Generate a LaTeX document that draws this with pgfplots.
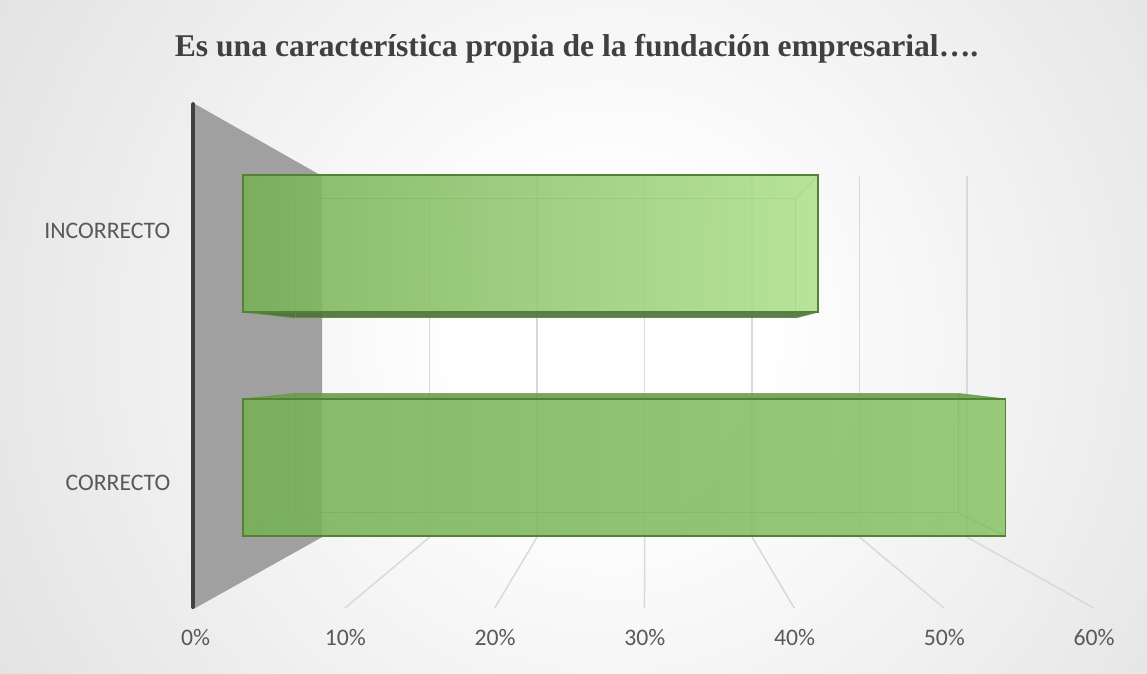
\documentclass[border=0pt]{standalone}
\usepackage{pgfplots}
\pgfplotsset{compat=1.18}
\usepackage{pgfplotstable}
\usepackage{fontspec}
\setmainfont{Carlito}
\newfontfamily\titlefont{Liberation Serif}

\definecolor{bgout}{HTML}{BEBEBE}
\definecolor{wallgray}{HTML}{A0A0A0}
\definecolor{axisdark}{HTML}{404040}
\definecolor{gridgray}{HTML}{D9D9D9}
\definecolor{titlecol}{HTML}{404040}
\definecolor{labcol}{HTML}{595959}
\definecolor{incL}{HTML}{77B256}
\definecolor{incR}{HTML}{AEE08E}
\definecolor{corL}{HTML}{76B255}
\definecolor{corR}{HTML}{8AC469}
\definecolor{edgedark}{HTML}{548235}
\definecolor{backedge}{HTML}{5E9A3C}
\definecolor{botface}{HTML}{4C6E3C}
\definecolor{topface}{HTML}{6A9E4C}

\pgfdeclareradialshading{bgrad}{\pgfpoint{0bp}{0bp}}{color(0bp)=(white); color(5bp)=(white); color(50bp)=(bgout)}

\pgfplotstableread{
y value
0 57
1 43
}\datatable

\begin{document}
\begin{tikzpicture}
% ---------- background, walls, floor (pixel coordinates) ----------
\begin{scope}[x=0.02cm,y=-0.02cm,shift={(0cm,13.46cm)}]
  \fill[bgout] (0,0) rectangle (1147,673);
  \begin{scope}
    \clip (0,0) rectangle (1147,673);
    \shade[shading=bgrad] (610,340) circle (720);
  \end{scope}
  % side wall
  \fill[wallgray] (195,104) -- (322,176) -- (322,537) -- (195,608) -- cycle;
  % back wall vertical grid lines and floor lines
  \foreach \k in {1,...,6}{
    \draw[gridgray, line width=0.85pt] (322+107.5*\k,176) -- (322+107.5*\k,537);
    \draw[gridgray, line width=0.85pt] (322+107.5*\k,537) -- (195+149.8*\k,608);
  }
  % vertical axis line
  \draw[axisdark, line width=2.3pt, line cap=round] (193,104) -- (193,607);
  % title
  \node[anchor=base, inner sep=0pt, text=titlecol,
        font=\titlefont\bfseries\fontsize{18}{20}\selectfont] at (576.5,56)
        {Es una característica propia de la fundación empresarial….};
\end{scope}

% ---------- the chart ----------
\begin{axis}[
  at={(0,0)}, anchor=south west,
  scale only axis, width=22.94cm, height=13.46cm,
  xmin=-18.161, xmax=67.563, ymin=-0.9174, ymax=2.0871,
  axis line style={draw=none},
  major tick length=0pt,
  clip=false,
  xtick={-3.55,7.646,18.84,30.04,41.23,52.43,63.63},
  xticklabels={0\%,10\%,20\%,30\%,40\%,50\%,60\%},
  xticklabel style={anchor=base, inner sep=0pt, yshift=0.54cm,
    font=\fontsize{13.5}{15}\selectfont, text=labcol},
  ytick={-0.069,1.058},
  yticklabels={CORRECTO,INCORRECTO},
  yticklabel style={anchor=east, inner sep=0pt, xshift=3.41cm,
    font=\fontsize{13.5}{15}\selectfont, text=labcol},
]
% 3D parts of each bar: visible horizontal face, back face and depth edges
\pgfplotsinvokeforeach{0,1}{
  \pgfplotstablegetelem{#1}{value}\of\datatable \let\vv\pgfplotsretval
  \pgfplotstablegetelem{#1}{y}\of\datatable \let\cc\pgfplotsretval
  \pgfmathsetmacro\xbl{30.007*(1-0.87049)}
  \pgfmathsetmacro\xbr{30.007+0.87049*(\vv-30.007)}
  \pgfmathsetmacro\yft{\cc+0.3058}
  \pgfmathsetmacro\yfb{\cc-0.3058}
  \pgfmathsetmacro\ybt{0.4933+0.87049*(\yft-0.4933)}
  \pgfmathsetmacro\ybb{0.4933+0.87049*(\yfb-0.4933)}
  \pgfmathtruncatemacro\vis{\yfb>0.4933}
  \ifnum\vis=1
    \edef\doface{\noexpand\addplot[forget plot, draw=none, fill=botface, fill opacity=0.9]
      coordinates {(0,\yfb) (\vv,\yfb) (\xbr,\ybb) (\xbl,\ybb) (0,\yfb)};}
  \else
    \edef\doface{\noexpand\addplot[forget plot, draw=none, fill=topface, fill opacity=0.9]
      coordinates {(0,\yft) (\vv,\yft) (\xbr,\ybt) (\xbl,\ybt) (0,\yft)};}
  \fi
  \doface
  \edef\doback{\noexpand\addplot[forget plot, draw=backedge, line width=0.6pt, draw opacity=0.7]
    coordinates {(\xbl,\ybt) (\xbr,\ybt) (\xbr,\ybb) (\xbl,\ybb) (\xbl,\ybt)};}
  \doback
  \edef\dodiag{%
    \noexpand\addplot[forget plot, draw=backedge, line width=0.6pt, draw opacity=0.7] coordinates {(0,\yft) (\xbl,\ybt)};
    \noexpand\addplot[forget plot, draw=backedge, line width=0.6pt, draw opacity=0.7] coordinates {(\vv,\yft) (\xbr,\ybt)};
    \noexpand\addplot[forget plot, draw=backedge, line width=0.6pt, draw opacity=0.7] coordinates {(\vv,\yfb) (\xbr,\ybb)};
    \noexpand\addplot[forget plot, draw=backedge, line width=0.6pt, draw opacity=0.7] coordinates {(0,\yfb) (\xbl,\ybb)};}
  \dodiag
}
% front faces
\addplot[xbar, bar shift=0pt, bar width=0.6116, draw=none,
  left color=corL, right color=corR, fill opacity=0.88]
  table[x=value, y=y, restrict y to domain=-0.5:0.5] {\datatable};
\addplot[xbar, bar shift=0pt, bar width=0.6116, draw=none,
  left color=incL, right color=incR, fill opacity=0.88]
  table[x=value, y=y, restrict y to domain=0.5:1.5] {\datatable};
% front outlines
\addplot[xbar, bar shift=0pt, bar width=0.6116, fill=none, draw=edgedark, line width=0.9pt]
  table[x=value, y=y] {\datatable};
\end{axis}
\end{tikzpicture}
\end{document}
